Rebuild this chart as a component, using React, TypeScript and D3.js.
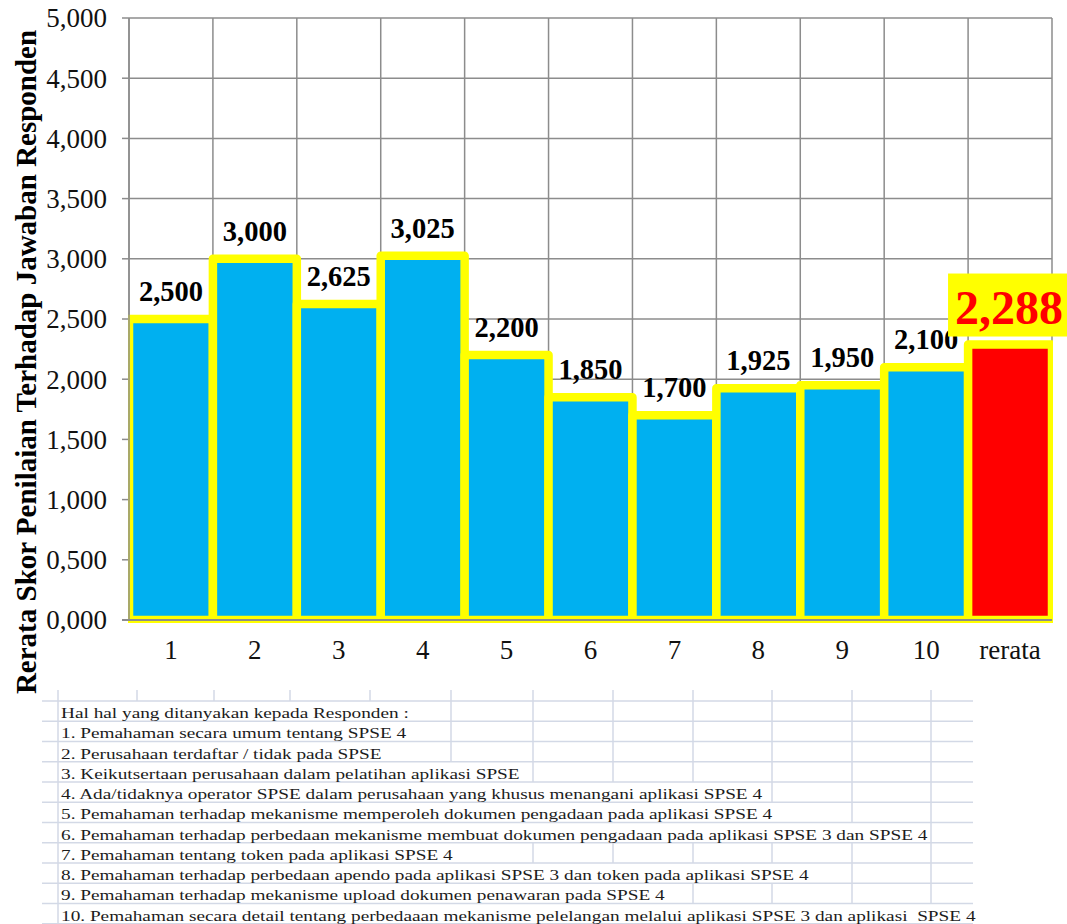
import React from "react";
import * as d3 from "d3";

const categories = ["1", "2", "3", "4", "5", "6", "7", "8", "9", "10", "rerata"];
const values = [2.5, 3.0, 2.625, 3.025, 2.2, 1.85, 1.7, 1.925, 1.95, 2.1, 2.288];
const yTicks = [0, 0.5, 1, 1.5, 2, 2.5, 3, 3.5, 4, 4.5, 5];
const yTitle = "Rerata Skor Penilaian Terhadap Jawaban Responden";
const tableRows = [
  "Hal hal yang ditanyakan kepada Responden :",
  "1. Pemahaman secara umum tentang SPSE 4",
  "2. Perusahaan terdaftar / tidak pada SPSE",
  "3. Keikutsertaan perusahaan dalam pelatihan aplikasi SPSE",
  "4. Ada/tidaknya operator SPSE dalam perusahaan yang khusus menangani aplikasi SPSE 4",
  "5. Pemahaman terhadap mekanisme memperoleh dokumen pengadaan pada aplikasi SPSE 4",
  "6. Pemahaman terhadap perbedaan mekanisme membuat dokumen pengadaan pada aplikasi SPSE 3 dan SPSE 4",
  "7. Pemahaman tentang token pada aplikasi SPSE 4",
  "8. Pemahaman terhadap perbedaan apendo pada aplikasi SPSE 3 dan token pada aplikasi SPSE 4",
  "9. Pemahaman terhadap mekanisme upload dokumen penawaran pada SPSE 4",
  "10. Pemahaman secara detail tentang perbedaaan mekanisme pelelangan melalui aplikasi SPSE 3 dan aplikasi  SPSE 4",
];
// spreadsheet layout (column boundaries and first visible boundary per row, Excel overflow)
const sheetCols = [58, 137, 214, 290, 370, 451, 533, 613, 693, 772, 852, 931];
const rowFirstVisibleCol = [5, 5, 5, 6, 9, 10, 11, 6, 10, 8, 12];

const W = 1067;
const H = 924;
const FONT = "'Liberation Serif', 'Times New Roman', serif";

const locale = d3.formatLocale({ decimal: ",", thousands: ".", grouping: [3], currency: ["", ""] });
const fmt = locale.format(".3f");

export default function App() {
  const left = 129, right = 1052, top = 18, bottom = 620;
  const x = d3.scaleBand<string>().domain(categories).range([left, right]).padding(0);
  const y = d3.scaleLinear().domain([0, 5]).range([bottom, top]);
  const grid = "#8c8c8c";
  const lastIdx = categories.length - 1;

  const rowTop = 701;
  const rowH = 20.25;
  const sheetLine = "#d3d9e6";
  const sheetRight = 973;

  return (
    <svg width={W} height={H} style={{ position: "absolute", left: 0, top: 0, background: "#fff" }}
      fontFamily={FONT}>
      <defs>
        <clipPath id="plotClip">
          <rect x={left - 1} y={0} width={right - left + 2} height={bottom + 3} />
        </clipPath>
      </defs>
      <rect x={0} y={0} width={W} height={H} fill="#fff" />

      {/* spreadsheet grid */}
      <g>
        {d3.range(0, 12).map((k) => (
          <line key={"h" + k} x1={42} x2={sheetRight} y1={rowTop + k * rowH} y2={rowTop + k * rowH}
            stroke={sheetLine} strokeWidth={1.5} />
        ))}
        {sheetCols.map((cx, ci) => (
          <line key={"vt" + ci} x1={cx} x2={cx} y1={690} y2={rowTop} stroke={sheetLine} strokeWidth={1.5} />
        ))}
        {tableRows.map((_, ri) =>
          sheetCols.map((cx, ci) =>
            ci === 0 || ci >= rowFirstVisibleCol[ri] ? (
              <line key={"v" + ri + "-" + ci} x1={cx} x2={cx} y1={rowTop + ri * rowH}
                y2={rowTop + (ri + 1) * rowH} stroke={sheetLine} strokeWidth={1.5} />
            ) : null
          )
        )}
        {tableRows.map((t, ri) => (
          <text key={"t" + ri} transform={`translate(61, ${rowTop + ri * rowH + 17}) scale(1.285, 1)`}
            fontSize={15} fill="#1c1c1c" style={{ whiteSpace: "pre" }}>
            {t}
          </text>
        ))}
      </g>

      {/* gridlines */}
      {yTicks.map((t) => (
        <g key={"gy" + t}>
          <line x1={left} x2={right} y1={y(t)} y2={y(t)} stroke={grid} strokeWidth={1.5} />
          <line x1={left - 7} x2={left} y1={y(t)} y2={y(t)} stroke={grid} strokeWidth={1.5} />
          <text x={107} y={y(t)} dy="0.35em" textAnchor="end" fontSize={27} fill="#111">
            {fmt(t)}
          </text>
        </g>
      ))}
      {categories.map((c) => (
        <line key={"gx" + c} x1={x(c)!} x2={x(c)!} y1={top} y2={bottom} stroke={grid} strokeWidth={1.5} />
      ))}
      <line x1={right} x2={right} y1={top} y2={bottom} stroke={grid} strokeWidth={1.5} />

      {/* bars */}
      <g clipPath="url(#plotClip)">
        {values.map((v, i) => (
          <rect key={"b" + i} x={x(categories[i])!} y={y(v)} width={x.bandwidth()} height={y(0) - y(v)}
            fill={i === lastIdx ? "#ff0000" : "#00b0f0"} stroke="#ffff00" strokeWidth={8.5}
            strokeLinejoin="round" />
        ))}
      </g>

      {/* axes */}
      <line x1={left} x2={left} y1={top} y2={bottom} stroke={grid} strokeWidth={1.5} />
      <line x1={left - 7} x2={right} y1={bottom} y2={bottom} stroke={grid} strokeWidth={2} />

      {categories.map((c) => (
        <text key={"xl" + c} x={x(c)! + x.bandwidth() / 2} y={659} textAnchor="middle" fontSize={27} fill="#111">
          {c}
        </text>
      ))}

      {/* data labels */}
      {values.map((v, i) =>
        i === lastIdx ? null : (
          <text key={"dl" + i} x={x(categories[i])! + x.bandwidth() / 2} y={y(v) - 18} textAnchor="middle"
            fontSize={28.5} fontWeight="bold" fill="#000">
            {fmt(v)}
          </text>
        )
      )}

      {/* highlighted mean label */}
      {(() => {
        const cx = x(categories[lastIdx])! + x.bandwidth() / 2;
        const v = values[lastIdx];
        return (
          <g>
            <rect x={cx - 62} y={y(v) - 71} width={119} height={63} fill="#ffff00" />
            <text x={cx - 1} y={y(v) - 21} textAnchor="middle" fontSize={48} fontWeight="bold" fill="#ff0000">
              {fmt(v)}
            </text>
          </g>
        );
      })()}

      {/* y title */}
      <text transform="translate(36, 362) rotate(-90)" textAnchor="middle" fontSize={29} fontWeight="bold" fill="#000">
        {yTitle}
      </text>
    </svg>
  );
}
